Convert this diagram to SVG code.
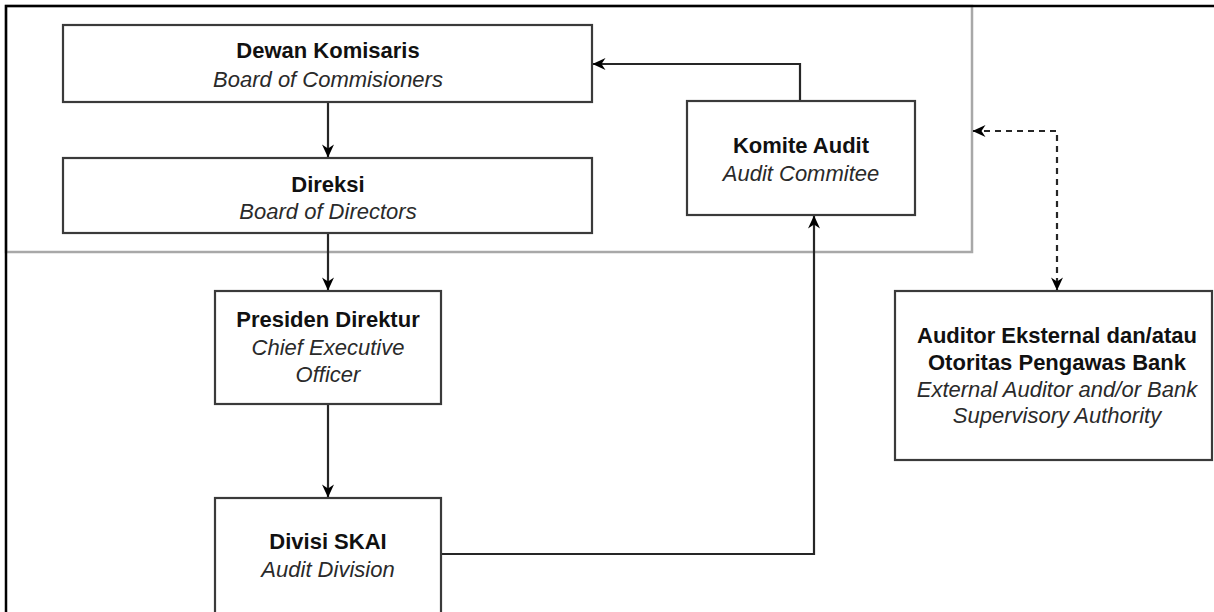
<svg xmlns="http://www.w3.org/2000/svg" width="1214" height="612" viewBox="0 0 1214 612">
  <style>
    .box { fill: #ffffff; stroke: #3a3a3a; stroke-width: 2.2; }
    .t { font-family: "Liberation Sans", Arial, sans-serif; font-size: 22px; text-anchor: middle; }
    .b { font-weight: bold; fill: #111111; }
    .i { font-style: italic; fill: #2a2a2a; }
    .conn { fill: none; stroke: #262626; stroke-width: 2.2; }
    .dash { stroke-dasharray: 6 5; }
  </style>
  <defs>
    <marker id="arr" viewBox="0 0 14 14" refX="13" refY="7" markerWidth="14" markerHeight="14" orient="auto-start-reverse" markerUnits="userSpaceOnUse">
      <path d="M0.5,1 L13.5,7 L0.5,13 L4.5,7 Z" fill="#000000"/>
    </marker>
  </defs>
  <rect x="0" y="0" width="1214" height="612" fill="#ffffff"/>
  <g id="container">
    <rect x="6" y="6" width="966" height="246" fill="none" stroke="#a8a8a8" stroke-width="2.5"/>
  </g>
  <g id="frame">
    <rect x="6" y="6" width="1230" height="640" fill="none" stroke="#000000" stroke-width="2.5"/>
  </g>
  <g id="connectors">
    <path class="conn" d="M800,101 V64 H593" marker-end="url(#arr)"/>
    <path class="conn" d="M328,102 V157" marker-end="url(#arr)"/>
    <path class="conn" d="M328,233 V290" marker-end="url(#arr)"/>
    <path class="conn" d="M328,404 V497" marker-end="url(#arr)"/>
    <path class="conn" d="M441,554 H814 V216" marker-end="url(#arr)"/>
    <path class="conn dash" d="M973,131 H1057 V290" marker-start="url(#arr)" marker-end="url(#arr)"/>
  </g>
  <g id="dewan-komisaris">
    <rect class="box" x="63" y="25" width="529" height="77"/>
    <text class="t b" x="328" y="58">Dewan Komisaris</text>
    <text class="t i" x="328" y="87">Board of Commisioners</text>
  </g>
  <g id="direksi">
    <rect class="box" x="63" y="158" width="529" height="75"/>
    <text class="t b" x="328" y="192">Direksi</text>
    <text class="t i" x="328" y="219">Board of Directors</text>
  </g>
  <g id="komite-audit">
    <rect class="box" x="687" y="101" width="228" height="114"/>
    <text class="t b" x="801" y="153">Komite Audit</text>
    <text class="t i" x="801" y="181">Audit Commitee</text>
  </g>
  <g id="presiden-direktur">
    <rect class="box" x="215" y="291" width="226" height="113"/>
    <text class="t b" x="328" y="327">Presiden Direktur</text>
    <text class="t i" x="328" y="355">Chief Executive</text>
    <text class="t i" x="328" y="382">Officer</text>
  </g>
  <g id="divisi-skai">
    <rect class="box" x="215" y="498" width="226" height="130"/>
    <text class="t b" x="328" y="549">Divisi SKAI</text>
    <text class="t i" x="328" y="577">Audit Division</text>
  </g>
  <g id="auditor-eksternal">
    <rect class="box" x="895" y="291" width="317" height="169"/>
    <text class="t b" x="1057" y="343">Auditor Eksternal dan/atau</text>
    <text class="t b" x="1057" y="370">Otoritas Pengawas Bank</text>
    <text class="t i" x="1057" y="397">External Auditor and/or Bank</text>
    <text class="t i" x="1057" y="423">Supervisory Authority</text>
  </g>
</svg>
